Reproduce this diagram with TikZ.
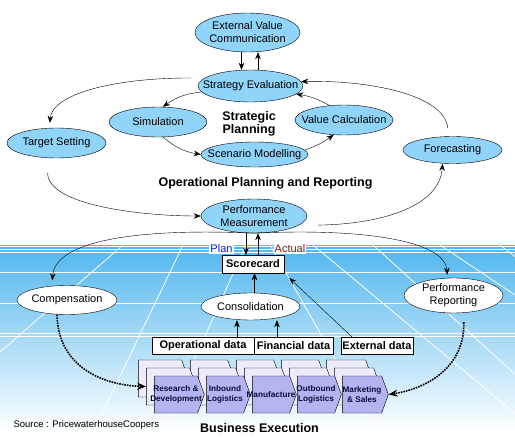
\documentclass[tikz,border=0pt]{standalone}
\usepackage{fontspec}
\setmainfont{Liberation Sans}
\usetikzlibrary{shapes}
\usetikzlibrary{arrows.meta}
\definecolor{sky_top}{RGB}{80,182,238}
\definecolor{sky_mid}{RGB}{135,205,244}
\definecolor{bubble_blue}{RGB}{145,212,250}
\definecolor{chain_front}{RGB}{180,180,240}
\definecolor{chain_back}{RGB}{236,236,250}
\definecolor{chain_ink}{RGB}{10,10,60}
\definecolor{plan_blue}{RGB}{20,20,220}
\definecolor{actual_red}{RGB}{140,20,20}
\tikzset{
	bubble/.style = {
		ellipse,
		draw=black,
		align=center,
		inner xsep=-20pt,
		inner ysep=-8pt,
		font=\fontsize{11}{13}\selectfont
	},
	node_blue/.style = {
		bubble,
		fill=bubble_blue
	},
	node_white/.style = {
		bubble,
		fill=white
	},
	node_box/.style = {
		rectangle,
		draw=black,
		fill=white,
		inner sep=0pt,
		minimum height=17pt,
		font=\fontsize{11}{13}\selectfont\bfseries
	},
	node_chain/.style = {
		signal,
		signal to=east,
		signal from=nowhere,
		signal pointer angle=140,
		draw=black,
		inner sep=0pt,
		minimum height=37pt
	},
	chain_text/.style = {
		align=center,
		inner sep=0pt,
		text=chain_ink,
		font=\fontsize{8.2}{10}\selectfont\bfseries
	},
	node_title/.style = {
		align=center,
		font=\fontsize{12.5}{13.5}\selectfont\bfseries
	},
	node_tag/.style = {
		fill=white,
		inner sep=1pt,
		font=\fontsize{11}{13}\selectfont
	},
	grid_line/.style = {
		white,
		line width=0.8pt
	},
	flow/.style = {
		->
	},
	push/.style = {
		-{Stealth[length=9pt,width=7pt]},
		densely dotted,
		line width=1.6pt
	},
}
\begin{document}
\begin{tikzpicture}[x=1pt, y=-1pt, >={Stealth[length=7pt,width=5.5pt]}]
\useasboundingbox (0,0) rectangle (515,439);
\fill[white] (0,0) rectangle (515,439);
\shade[top color=sky_top, middle color=sky_mid, bottom color=white] (0,245) rectangle (515,432);
\begin{scope}
	\clip (0,245) rectangle (515,439);
	\foreach \xt/\s in {123/-1.15, 183/-0.48, 246/-0.45, 270/0.57, 313/1.2, 373/1.1, 440/1.5, 500/1.3}
		\draw[grid_line] (\xt,245) -- ++(\s*200,200);
	\foreach \yy in {246, 249, 252, 272.5, 303, 333.5, 336.5}
		\draw[grid_line] (0,\yy) -- (515,\yy);
\end{scope}

\node[node_blue, minimum width=105, minimum height=39] (evc) at (247.5,32.5) {External Value\\Communication};
\node[node_blue, minimum width=105, minimum height=32] (se) at (250.5,86) {Strategy Evaluation};
\node[node_blue, minimum width=98, minimum height=30] (sim) at (158,122) {Simulation};
\node[node_blue, minimum width=98, minimum height=30] (vc) at (344,120) {Value Calculation};
\node[node_blue, minimum width=107, minimum height=25] (sm) at (254.5,154.5) {Scenario Modelling};
\node[node_blue, minimum width=99, minimum height=30] (ts) at (56.5,143) {Target Setting};
\node[node_blue, minimum width=99, minimum height=27] (fc) at (452.5,150) {Forecasting};
\node[node_blue, minimum width=106, minimum height=34] (pm) at (254,216) {Performance\\Measurement};
\node[node_title] (sp) at (249,124) {Strategic\\Planning};
\node[node_title] (opr) at (265.5,183) {Operational Planning and Reporting};

\node[node_box, minimum width=62, minimum height=18] (sc) at (253,264) {Scorecard};
\node[node_tag, text=plan_blue] (plan) at (221.5,249) {Plan};
\node[node_tag, text=actual_red] (actual) at (290,249) {Actual};
\node[node_white, minimum width=100, minimum height=29] (comp) at (67,300) {Compensation};
\node[node_white, minimum width=99, minimum height=27] (cons) at (250.5,306.5) {Consolidation};
\node[node_white, minimum width=99, minimum height=35] (pr) at (453.5,295.5) {Performance\\Reporting};
\node[node_box, minimum width=102] (od) at (203,345.5) {Operational data};
\node[node_box, minimum width=79] (fd) at (293.5,345.5) {Financial data};
\node[node_box, minimum width=72] (ed) at (377,345.5) {External data};

\foreach \i/\xl/\w in {1/151/50, 2/203/44, 3/249/44, 4/294/44, 5/339/46}
	\node[node_chain, fill=chain_back, minimum width=\w] (b\i) at (\xl+\w/2-16,378.5) {};
\foreach \i/\xl/\w in {1/151/50, 2/203/44, 3/249/44, 4/294/44, 5/339/46}
	\node[node_chain, fill=chain_back, minimum width=\w] (m\i) at (\xl+\w/2-8,386.5) {};
\foreach \i/\xl/\w/\txt in {1/151/50/{Research \&\\Development}, 2/203/44/{Inbound\\Logistics}, 3/249/44/{Manufacture}, 4/294/44/{Outbound\\Logistics}, 5/339/46/{Marketing\\\& Sales}} {
	\node[node_chain, fill=chain_front, minimum width=\w] (f\i) at (\xl+\w/2,394.5) {};
	\node[chain_text] (t\i) at (f\i) {\txt};
}
\node[node_title] (be) at (259.5,428) {Business Execution};
\node[anchor=west, font=\fontsize{9.5}{11}\selectfont] (src) at (10,425) {Source : PricewaterhouseCoopers};

\draw[flow] ([xshift=-6]evc.south) -- ([xshift=-6]evc.south |- se.north);
\draw[flow] ([xshift=7.5]se.north) -- ([xshift=7.5]se.north |- evc.south);
\draw[flow, shorten <=14, shorten >=5] (se.170) .. controls (110,78) and (52,95) .. ([xshift=-7]ts.north);
\draw[flow] (se.187) to[bend right=15] ([xshift=5]sim.north);
\draw[flow] ([xshift=5]sim.south) to[bend right=15] (sm.west);
\draw[flow] (sm.5) to[bend right=8] (vc.235);
\draw[flow] (vc.135) to[bend right=10] (se.-10);
\draw[flow, shorten <=8] ([xshift=-4]fc.north) .. controls (445,95) and (370,80) .. (se.5);
\draw[flow, shorten <=15] ([xshift=-9]ts.south) .. controls (48,205) and (140,216) .. (pm.west);
\draw[flow, shorten <=20] (pm.-12) .. controls (385,224) and (440,205) .. ([xshift=-10]fc.south);
\draw[flow, shorten >=5] (pm.south) .. controls (140,228) and (55,240) .. ([xshift=-15]comp.north);
\draw[flow, shorten >=3] (pm.south) .. controls (360,228) and (445,240) .. ([xshift=-6]pr.north);
\draw[flow] ([xshift=-8]pm.south) -- ([xshift=-8]pm.south |- sc.north);
\draw[flow] ([xshift=5]sc.north) -- ([xshift=5]sc.north |- pm.south);
\draw[flow] ([xshift=4]cons.north) -- ([xshift=4]cons.north |- sc.south);
\draw[flow] ([xshift=34]od.north) -- ([xshift=34]od.north |- cons.south);
\draw[flow] ([xshift=-16.5]fd.north) -- ([xshift=-16.5]fd.north |- cons.south);
\draw[flow, shorten >=7] ([xshift=11]ed.north west) -- (sc.south east);
\draw[push] ([xshift=-10]comp.south) .. controls (58,365) and (100,385) .. (m1.west);
\draw[push, shorten <=9] ([xshift=10]pr.south) .. controls (465,365) and (430,388) .. (f5.east);
\end{tikzpicture}
\end{document}
